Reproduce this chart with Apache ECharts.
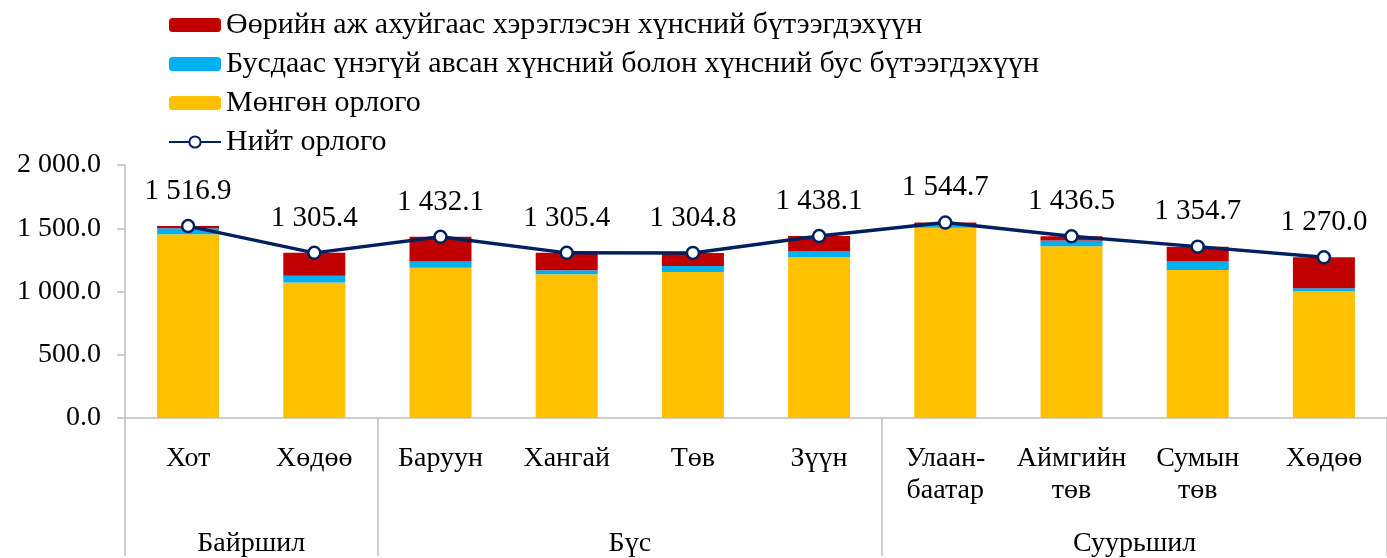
<!DOCTYPE html>
<html>
<head>
<meta charset="utf-8">
<script src="https://cdn.jsdelivr.net/npm/echarts@6/dist/echarts.min.js"></script>
<style>
  html, body { margin: 0; padding: 0; background: #fff; }
  #chart { width: 1387px; height: 558px; }
</style>
</head>
<body>
<div id="chart"></div>
<script>
// ангилал
var categories = ['Хот', 'Хөдөө', 'Баруун', 'Хангай', 'Төв', 'Зүүн', 'Улаан-\nбаатар', 'Аймгийн\nтөв', 'Сумын\nтөв', 'Хөдөө'];
var groups = ['Байршил', 'Бүс', 'Суурьшил'];
var groupCenters = [1, 4, 8];
var groupEdges = [0, 2, 6, 10];

// өгөгдөл
var moneyIncome = [1452, 1072, 1187, 1137, 1155, 1271, 1503, 1357, 1169, 1002];
var freeGoods = [48, 52, 50, 31, 47, 49, 20, 47, 68, 24];
var ownProducts = [16.9, 181.4, 195.1, 137.4, 102.8, 118.1, 21.7, 32.5, 117.7, 244.0];
var totalIncome = [1516.9, 1305.4, 1432.1, 1305.4, 1304.8, 1438.1, 1544.7, 1436.5, 1354.7, 1270.0];

var yTicks = [0, 500, 1000, 1500, 2000];

var names = {
  own: 'Өөрийн аж ахуйгаас хэрэглэсэн хүнсний бүтээгдэхүүн',
  free: 'Бусдаас үнэгүй авсан хүнсний болон хүнсний бус бүтээгдэхүүн',
  money: 'Мөнгөн орлого',
  total: 'Нийт орлого'
};

function fmt(v) {
  var s = Number(v).toFixed(1);
  var parts = s.split('.');
  parts[0] = parts[0].replace(/\B(?=(\d{3})+(?!\d))/g, ' ');
  return parts.join('.');
}

var font = '"Liberation Serif", "Times New Roman", serif';
var axisGray = '#bfbfbf';

var chart = echarts.init(document.getElementById('chart'));
chart.setOption({
  animation: false,
  textStyle: { fontFamily: font, color: '#000' },
  legend: {
    orient: 'vertical',
    left: 163,
    top: 5,
    itemWidth: 52,
    itemHeight: 14,
    itemGap: 9,
    textStyle: { fontFamily: font, fontSize: 30, color: '#000', lineHeight: 24 },
    data: [names.own, names.free, names.money, names.total]
  },
  grid: { left: 125, right: 0, top: 165, bottom: 138 },
  xAxis: [{
    type: 'category',
    data: categories,
    axisLine: { lineStyle: { color: axisGray, width: 1.5 } },
    axisTick: { length: 87, lineStyle: { color: axisGray, width: 1.5 } },
    axisLabel: {
      fontFamily: font, fontSize: 28, color: '#000',
      lineHeight: 32, margin: 25, interval: 0
    }
  }, {
    type: 'value',
    min: 0,
    max: 10,
    position: 'bottom',
    axisLine: { show: false },
    splitLine: { show: false },
    axisTick: {
      show: true,
      customValues: groupEdges,
      length: 138,
      lineStyle: { color: axisGray, width: 1.5 }
    },
    axisLabel: {
      customValues: groupCenters,
      margin: 112,
      fontFamily: font, fontSize: 28, color: '#000',
      formatter: function (v) {
        var i = groupCenters.indexOf(v);
        return i >= 0 ? groups[i] : '';
      }
    }
  }],
  yAxis: {
    type: 'value',
    min: yTicks[0],
    max: yTicks[yTicks.length - 1],
    interval: 500,
    axisLine: { show: true, lineStyle: { color: axisGray, width: 1.5 } },
    axisTick: { show: true, length: 8, lineStyle: { color: axisGray, width: 1.5 } },
    splitLine: { show: false },
    axisLabel: {
      fontFamily: font, fontSize: 28, color: '#000', margin: 24,
      formatter: fmt
    }
  },
  series: [{
    name: names.money,
    type: 'bar',
    stack: 'income',
    barWidth: 62,
    itemStyle: { color: '#FFC000' },
    data: moneyIncome
  }, {
    name: names.free,
    type: 'bar',
    stack: 'income',
    itemStyle: { color: '#00B0F0' },
    data: freeGoods
  }, {
    name: names.own,
    type: 'bar',
    stack: 'income',
    itemStyle: { color: '#C00000' },
    data: ownProducts
  }, {
    name: names.total,
    type: 'line',
    data: totalIncome,
    symbol: 'circle',
    symbolSize: 12,
    lineStyle: { color: '#002060', width: 3.5 },
    itemStyle: { color: '#fff', borderColor: '#002060', borderWidth: 2.5 },
    label: {
      show: true,
      position: 'top',
      distance: 13,
      fontFamily: font,
      fontSize: 29,
      color: '#000',
      formatter: function (p) { return fmt(p.value); }
    },
    z: 5
  }]
});
</script>
</body>
</html>
